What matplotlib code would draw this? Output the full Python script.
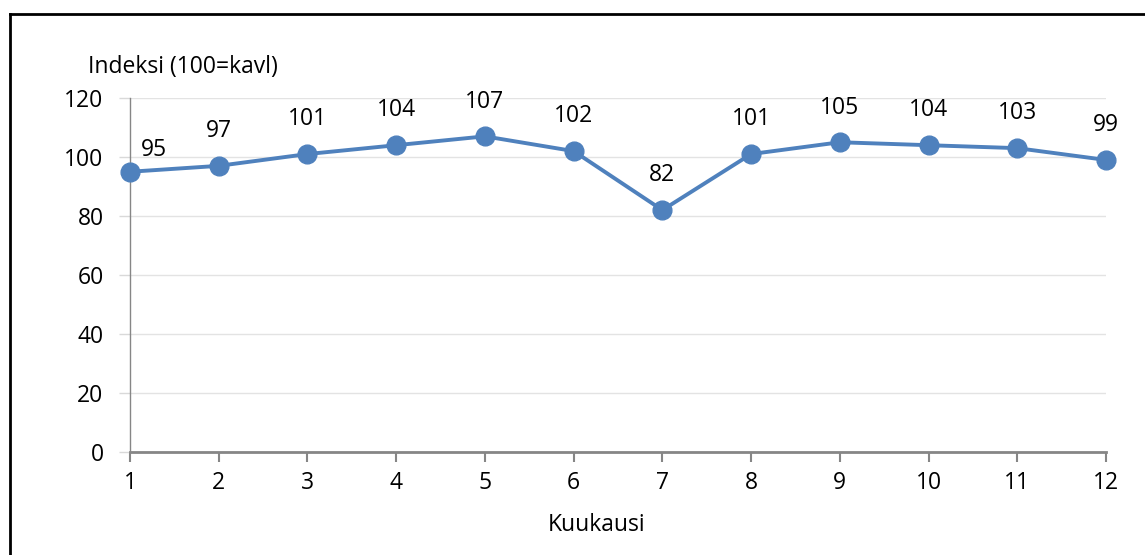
import matplotlib
matplotlib.use('Agg')
import matplotlib.pyplot as plt
from matplotlib.lines import Line2D

plt.rcParams['font.family'] = ['Open Sans', 'DejaVu Sans']

# data
kuukaudet = [1, 2, 3, 4, 5, 6, 7, 8, 9, 10, 11, 12]
indeksi = [95, 97, 101, 104, 107, 102, 82, 101, 105, 104, 103, 99]
y_ticks = [0, 20, 40, 60, 80, 100, 120]

fs = 16.5

fig = plt.figure(figsize=(11.45, 5.55), dpi=100)
ax = fig.add_axes((130 / 1145, 1 - 452 / 555, 976 / 1145, 354 / 555))

ax.plot(kuukaudet, indeksi, color='#4F81BD', lw=2.8, marker='o', ms=13.5, zorder=3, clip_on=False)
for i, (x, v) in enumerate(zip(kuukaudet, indeksi)):
    if i == 0:
        ax.annotate(str(v), (x, v), xytext=(17, 16), textcoords='offset points',
                    ha='center', va='center', fontsize=fs)
    else:
        ax.annotate(str(v), (x, v), xytext=(0, 25), textcoords='offset points',
                    ha='center', va='center', fontsize=fs)

ax.set_xlim(1, 12)
ax.set_ylim(0, 120)
ax.set_xticks(kuukaudet)
ax.set_yticks(y_ticks)
ax.tick_params(axis='x', length=7, width=1.5, color='#868686', labelsize=fs, pad=7)
ax.tick_params(axis='y', length=8, width=1, color='#D9D9D9', labelsize=fs, pad=11)
ax.grid(axis='y', color='#E3E3E3', lw=1)
ax.set_axisbelow(True)
for s in ['top', 'right']:
    ax.spines[s].set_visible(False)
ax.spines['left'].set_color('#868686')
ax.spines['left'].set_linewidth(1)
ax.spines['bottom'].set_color('#868686')
ax.spines['bottom'].set_linewidth(2)

fig.text(88 / 1145, 1 - 67 / 555, 'Indeksi (100=kavl)', fontsize=fs, va='center', ha='left')
fig.text(597 / 1145, 1 - 525 / 555, 'Kuukausi', fontsize=fs, va='center', ha='center')

# reunaviivat
fig.add_artist(Line2D([9.5 / 1145, 9.5 / 1145], [0, 1 - 14 / 555], color='black', lw=2, transform=fig.transFigure))
fig.add_artist(Line2D([9.5 / 1145, 1], [1 - 14 / 555, 1 - 14 / 555], color='black', lw=2, transform=fig.transFigure))

fig.savefig('out.png', dpi=100)
